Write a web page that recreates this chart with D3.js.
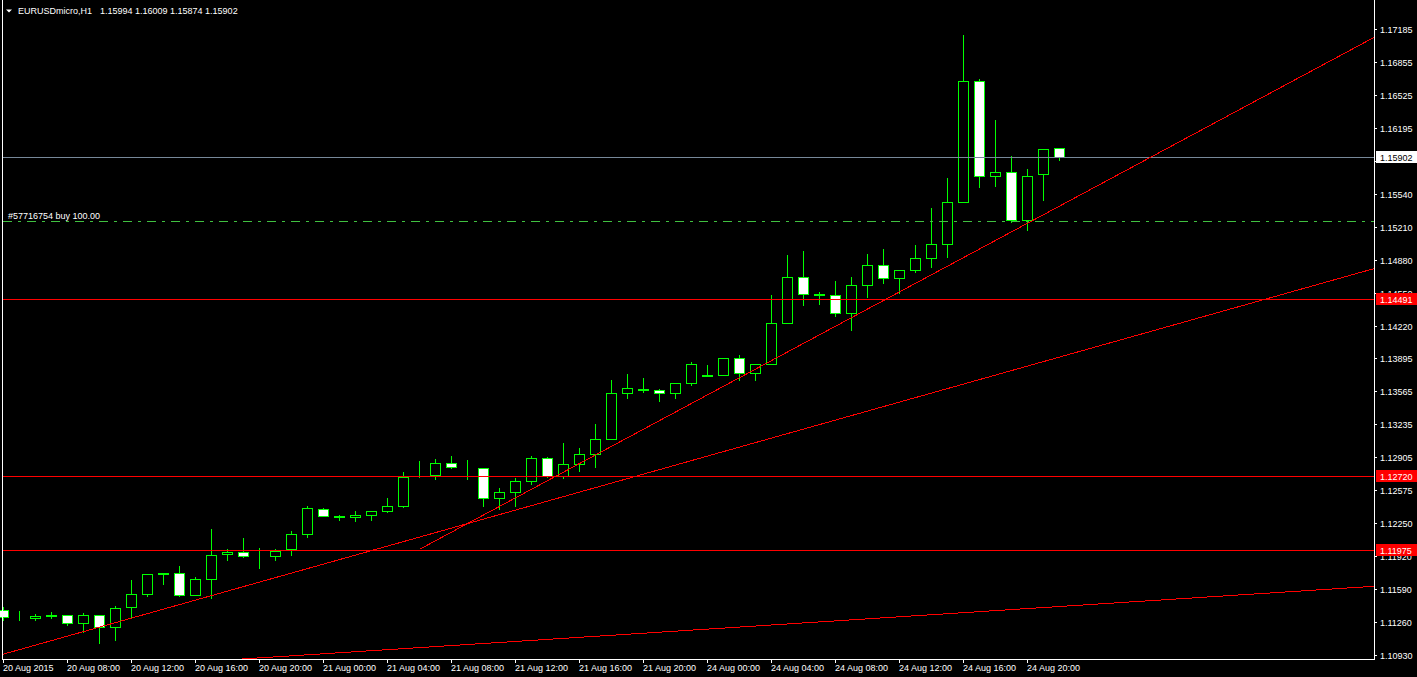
<!DOCTYPE html>
<html><head><meta charset="utf-8">
<script src="https://cdn.jsdelivr.net/npm/d3@7"></script>
<style>
html,body{margin:0;padding:0;background:#000;overflow:hidden}
svg{display:block}
text{font-family:"Liberation Sans",Arial,sans-serif;font-size:9px;fill:#fff}
</style></head><body>
<svg id="c" width="1417" height="677"></svg>
<script>
// ---------------- data ----------------
const symbolTitle = "EURUSDmicro,H1";
const titleOHLC = "1.15994 1.16009 1.15874 1.15902";

const opens = [1.11380,1.11305,1.11295,1.11320,1.11325,1.11245,1.11325,1.11210,1.11410,1.11540,
1.11744,1.11754,1.11525,1.11694,1.11939,1.11964,1.11919,1.11919,1.11989,1.12144,
1.12384,1.12304,1.12309,1.12324,1.12364,1.12414,1.12714,1.12724,1.12853,1.12808,
1.12803,1.12494,1.12554,1.12664,1.12903,1.12714,1.12843,1.12943,1.13093,1.13543,
1.13573,1.13573,1.13548,1.13648,1.13718,1.13728,1.13893,1.13748,1.13838,1.14252,
1.14702,1.14527,1.14527,1.14347,1.14627,1.14822,1.14697,1.14772,1.14897,1.15032,
1.15461,1.16670,1.15716,1.15761,1.15272,1.15736,1.15994];
const highs = [1.11420,1.11380,1.11350,1.11370,1.11340,1.11360,1.11340,1.11430,1.11690,1.11749,
1.11759,1.11829,1.11719,1.12199,1.11999,1.12109,1.12009,1.11999,1.12179,1.12429,
1.12409,1.12339,1.12379,1.12369,1.12509,1.12769,1.12879,1.12898,1.12928,1.12888,
1.12808,1.12609,1.12704,1.12928,1.12923,1.13058,1.13008,1.13248,1.13688,1.13748,
1.13708,1.13598,1.13648,1.13868,1.13838,1.13908,1.13938,1.13843,1.14537,1.14937,
1.14977,1.14567,1.14677,1.14717,1.14947,1.14997,1.14782,1.15037,1.15406,1.15706,
1.17135,1.16695,1.16286,1.15926,1.15796,1.15996,1.16009];
const lows = [1.11280,1.11280,1.11280,1.11300,1.11230,1.11160,1.11045,1.11075,1.11300,1.11515,
1.11644,1.11515,1.11525,1.11495,1.11884,1.11909,1.11804,1.11884,1.11929,1.12114,
1.12314,1.12274,1.12264,1.12274,1.12354,1.12404,1.12709,1.12688,1.12803,1.12688,
1.12414,1.12384,1.12414,1.12639,1.12704,1.12694,1.12773,1.12813,1.13088,1.13493,
1.13553,1.13463,1.13493,1.13623,1.13713,1.13723,1.13673,1.13673,1.13833,1.14247,
1.14427,1.14437,1.14322,1.14182,1.14512,1.14652,1.14552,1.14752,1.14807,1.14902,
1.15456,1.15611,1.15621,1.15257,1.15177,1.15476,1.15874];
const closes = [1.11310,1.11310,1.11320,1.11325,1.11250,1.11325,1.11210,1.11395,1.11540,1.11744,
1.11754,1.11525,1.11694,1.11934,1.11964,1.11919,1.11924,1.11974,1.12144,1.12394,
1.12319,1.12314,1.12324,1.12364,1.12414,1.12704,1.12719,1.12853,1.12808,1.12813,
1.12494,1.12554,1.12669,1.12903,1.12714,1.12843,1.12943,1.13093,1.13543,1.13593,
1.13583,1.13548,1.13643,1.13833,1.13723,1.13893,1.13743,1.13833,1.14252,1.14702,
1.14537,1.14537,1.14347,1.14627,1.14822,1.14697,1.14772,1.14892,1.15032,1.15461,
1.16670,1.15721,1.15761,1.15272,1.15721,1.15981,1.15902];

const xTickBars = [0,4,8,12,16,20,24,28,32,36,40,44,48,52,56,60,64];
const xTickLabels = ["20 Aug 2015","20 Aug 08:00","20 Aug 12:00","20 Aug 16:00","20 Aug 20:00",
"21 Aug 00:00","21 Aug 04:00","21 Aug 08:00","21 Aug 12:00","21 Aug 16:00","21 Aug 20:00",
"24 Aug 00:00","24 Aug 04:00","24 Aug 08:00","24 Aug 12:00","24 Aug 16:00","24 Aug 20:00"];
// price-axis ticks; "1.15865" sits completely under the bid label, so only its tick mark shows
const yTickValues = [1.17185,1.16855,1.16525,1.16195,1.15865,1.15540,1.15210,1.14880,
1.14550,1.14220,1.13895,1.13565,1.13235,1.12905,1.12575,1.12250,1.11920,
1.11590,1.11260,1.10930];
const yTickLabels = ["1.17185","1.16855","1.16525","1.16195","","1.15540","1.15210","1.14880",
"1.14550","1.14220","1.13895","1.13565","1.13235","1.12905","1.12575","1.12250","1.11920",
"1.11590","1.11260","1.10930"];

const bidPrice = 1.15902;
const hLinePrices = [1.14491, 1.12720, 1.11975];
const orderPrice = 1.15267;
const orderLabel = "#57716754 buy 100.00";
// trend lines: [bar1, price1, bar2, price2]
const trendA = [0, 1.10939, 60, 1.13637];
const trendB = [26, 1.11986, 60, 1.14901];
const trendC = [15, 1.10891, 60, 1.11353];

// ---------------- drawing ----------------
const svg = d3.select("#c");
const W = 1417, H = 677;
const plotL = 2.5, plotR = 1374.5, plotB = 659.5;

const x = d3.scaleLinear().domain([0, 85.65625]).range([3.5, 1374]);
const y = d3.scaleLinear().domain([1.10930, 1.17185]).range([655, 29]);
const Y = p => Math.round(y(p)) + 0.5;
const X = i => Math.floor(x(i)) + 0.5;

svg.append("rect").attr("width", W).attr("height", H).attr("fill", "#000");

svg.append("defs").append("clipPath").attr("id", "plot")
  .append("rect").attr("x", 3).attr("y", 0).attr("width", 1371).attr("height", 659);

const g = svg.append("g");
const n = opens.length;
const data = d3.range(n).map(i => ({i, o: opens[i], h: highs[i], l: lows[i], c: closes[i]}));

// wicks
g.selectAll("line.wick").data(data).join("line")
  .attr("x1", d => X(d.i)).attr("x2", d => X(d.i))
  .attr("y1", d => Y(d.h)).attr("y2", d => Y(d.l) + 0.5)
  .attr("stroke", "#00ff00").attr("stroke-width", 1)
  .attr("shape-rendering", "crispEdges");

// bodies
g.selectAll("rect.body").data(data).join("rect")
  .attr("x", d => X(d.i) - 5).attr("width", 10)
  .attr("y", d => Math.min(Y(d.o), Y(d.c)))
  .attr("height", d => Math.abs(Y(d.o) - Y(d.c)))
  .attr("fill", d => d.c >= d.o ? "#000" : "#fff")
  .attr("stroke", "#00ff00").attr("stroke-width", 1)
  .attr("shape-rendering", "crispEdges");

// objects
const obj = svg.append("g").attr("clip-path", "url(#plot)");
obj.append("line").attr("x1", 3).attr("x2", 1374).attr("y1", Y(bidPrice)).attr("y2", Y(bidPrice))
  .attr("stroke", "#778899").attr("shape-rendering", "crispEdges");
obj.selectAll("line.h").data(hLinePrices).join("line")
  .attr("x1", 3).attr("x2", 1374).attr("y1", d => Y(d)).attr("y2", d => Y(d))
  .attr("stroke", "#ff0000").attr("shape-rendering", "crispEdges");
obj.append("line").attr("x1", 3).attr("x2", 1374).attr("y1", Y(orderPrice)).attr("y2", Y(orderPrice))
  .attr("stroke", "#40c040").attr("stroke-dasharray", "9,6,3,6").attr("shape-rendering", "crispEdges");

function trendPath(t, leftRay) {
  const [b1, p1, b2, p2] = t;
  const slope = (p2 - p1) / (b2 - b1);
  const bL = leftRay ? x.invert(0) : b1;
  const bR = x.invert(1380);
  return [[x(bL), y(p1 + slope * (bL - b1))], [x(bR), y(p1 + slope * (bR - b1))]];
}
const lineGen = d3.line();
[[trendA, true], [trendB, false], [trendC, true]].forEach(([t, lr]) => {
  obj.append("path").attr("d", lineGen(trendPath(t, lr)))
    .attr("fill", "none").attr("stroke", "#ff0000").attr("stroke-width", 1)
    .attr("shape-rendering", "crispEdges");
});

obj.append("text").attr("x", 8).attr("y", Y(orderPrice) - 3).text(orderLabel);

// frame
svg.append("line").attr("x1", plotL).attr("x2", plotL).attr("y1", 0).attr("y2", plotB + 0.5)
  .attr("stroke", "#fff").attr("shape-rendering", "crispEdges");
svg.append("line").attr("x1", plotR).attr("x2", plotR).attr("y1", 0).attr("y2", plotB + 0.5)
  .attr("stroke", "#fff").attr("shape-rendering", "crispEdges");
svg.append("line").attr("x1", plotL).attr("x2", plotR).attr("y1", plotB).attr("y2", plotB)
  .attr("stroke", "#fff").attr("shape-rendering", "crispEdges");

// x ticks
svg.selectAll("line.xt").data(xTickBars).join("line")
  .attr("x1", d => X(d)).attr("x2", d => X(d)).attr("y1", 660).attr("y2", 663)
  .attr("stroke", "#fff").attr("shape-rendering", "crispEdges");
svg.selectAll("text.xl").data(xTickBars).join("text")
  .attr("x", d => X(d) - 0.5).attr("y", 671)
  .text((d, k) => xTickLabels[k]);

// y ticks
svg.selectAll("line.yt").data(yTickValues).join("line")
  .attr("x1", 1375).attr("x2", 1377).attr("y1", d => Y(d)).attr("y2", d => Y(d))
  .attr("stroke", "#fff").attr("shape-rendering", "crispEdges");
svg.selectAll("text.yl").data(yTickValues.filter((d, k) => yTickLabels[k])).join("text")
  .attr("x", 1380).attr("y", d => Y(d) + 3.5)
  .text(d => yTickLabels[yTickValues.indexOf(d)]);

// price boxes
function priceBox(p, bg, fg) {
  svg.append("rect").attr("x", 1376).attr("y", Y(p) - 6.5).attr("width", 41).attr("height", 12)
    .attr("fill", bg);
  svg.append("text").attr("x", 1380).attr("y", Y(p) + 3.5).style("fill", fg).text(p.toFixed(5));
}
hLinePrices.forEach(p => priceBox(p, "#ff0000", "#fff"));
priceBox(bidPrice, "#fff", "#000");

// title
svg.append("path").attr("d", "M6,9.5 L12,9.5 L9,12.5 Z").attr("fill", "#fff");
svg.append("text").attr("x", 18).attr("y", 14).text(symbolTitle);
svg.append("text").attr("x", 100).attr("y", 14).text(titleOHLC);
</script>
</body></html>
